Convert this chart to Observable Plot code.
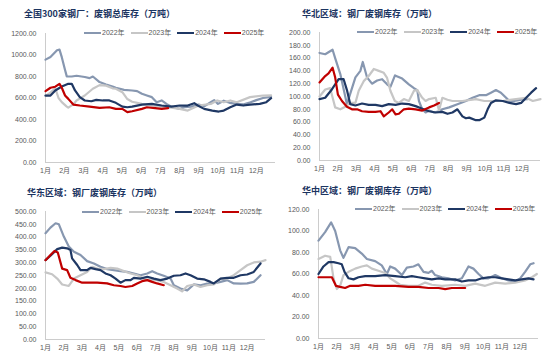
<!DOCTYPE html>
<html><head><meta charset="utf-8">
<script src="https://cdn.jsdelivr.net/npm/d3@7"></script>
<script src="https://cdn.jsdelivr.net/npm/@observablehq/plot@0.6"></script>
<style>
body{margin:0;background:#fff;width:550px;height:358px;overflow:hidden;position:relative;font-family:"Liberation Sans","Noto Sans CJK SC",sans-serif;}
.panel{position:absolute;width:275px;height:179px;}
.panel svg{position:absolute;left:0;top:0;}
.title{position:absolute;font-family:"Noto Sans CJK SC",sans-serif;font-weight:bold;font-size:9px;color:#1B3461;white-space:nowrap;line-height:10px;}
.legend{position:absolute;display:flex;align-items:center;font-size:7px;color:#595959;white-space:nowrap;line-height:8px;}
.legend .item{display:flex;align-items:center;margin-right:6px;}
.legend .sw{width:17px;height:2px;margin-right:1px;}
</style>
</head><body>
<script>
const years = ["2022年","2023年","2024年","2025年"];
const colors = ["#8797B0","#C6C6C6","#1F3864","#C00000"];
const monthTicks = [1,2,3,4,5,6,7,8,9,10,11,12];
const monthLabels = ["1月","2月","3月","4月","5月","6月","7月","8月","9月","10月","11月","12月"];

// Panel 1: 全国300家钢厂 废钢总库存 [month position, value]
const p1Title = "全国300家钢厂：废钢总库存（万吨）";
const p1_2022 = [[1,957],[1.26,982],[1.6,1044],[1.73,1050],[1.85,980],[2.02,860],[2.11,801],[2.37,800],[2.62,807],[3.05,795],[3.3,785],[3.47,800],[3.82,748],[4.16,726],[4.5,707],[4.67,695],[5.1,676],[5.52,670],[5.78,664],[6.03,639],[6.29,623],[6.55,608],[6.8,561],[7.06,577],[7.31,545],[7.57,520],[8.0,499],[8.25,514],[8.6,520],[8.99,539],[9.3,525],[9.62,560],[9.8,580],[10.0,545],[10.3,575],[10.6,555],[11.0,545],[11.3,540],[11.7,560],[12.0,580],[12.35,600],[12.77,610]];
const p1_2023 = [[1,620],[1.26,650],[1.51,690],[1.68,600],[1.85,561],[2.11,520],[2.19,510],[2.45,540],[2.62,577],[3.05,623],[3.47,686],[3.82,720],[4.16,715],[4.5,690],[4.67,686],[5.01,654],[5.27,590],[5.52,565],[6.03,545],[6.55,530],[7.06,520],[7.57,510],[8.0,499],[8.42,483],[8.99,530],[9.62,545],[9.96,577],[10.3,560],[10.64,577],[10.98,560],[11.67,608],[12.35,623],[12.77,625]];
const p1_2024 = [[1,623],[1.26,623],[1.51,670],[1.85,707],[2.19,732],[2.37,732],[2.54,670],[2.79,608],[3.05,577],[3.39,570],[3.65,583],[3.99,577],[4.33,577],[4.67,555],[5.01,520],[5.27,514],[5.52,520],[6.03,539],[6.55,545],[7.06,530],[7.57,520],[8.0,530],[8.42,530],[8.76,552],[8.94,530],[9.28,499],[9.7,483],[10.04,474],[10.3,483],[10.64,514],[10.98,539],[11.32,530],[11.67,539],[12.18,545],[12.52,561],[12.77,598]];
const p1_2025 = [[1,664],[1.26,695],[1.51,705],[1.73,732],[1.85,695],[2.02,623],[2.19,592],[2.45,539],[2.79,530],[3.3,520],[3.82,508],[4.33,514],[4.67,499],[5.01,499],[5.27,468],[5.52,477],[6.03,499],[6.29,514],[6.72,505],[7.06,499],[7.4,505]];

// Panel 2: 华北区域
const p2Title = "华北区域：钢厂废钢库存（万吨）";
const p2_2022 = [[1,168],[1.31,166],[1.71,173],[1.85,160],[2.13,135],[2.49,88],[2.95,130],[3.22,140],[3.35,154],[3.58,130],[3.85,120],[4.13,125],[4.4,127],[4.67,119],[4.85,115],[5.1,133],[5.49,128],[5.85,119],[6.13,113],[6.31,110],[6.4,93],[6.58,80],[6.76,75],[6.95,78],[7.22,75],[7.49,77],[7.67,80],[8.04,83],[8.49,88],[8.95,93],[9.31,98],[9.67,102],[10.04,102],[10.31,106],[10.58,110],[10.85,106],[11.31,93],[11.58,93],[11.95,95],[12.3,96]];
const p2_2023 = [[1,100],[1.31,111],[1.58,113],[1.76,93],[1.85,83],[2.13,80],[2.4,84],[2.67,90],[2.95,90],[3.13,109],[3.4,124],[3.67,132],[3.95,143],[4.22,140],[4.49,137],[4.67,129],[4.85,109],[5.09,93],[5.31,90],[5.58,96],[5.85,93],[6.13,109],[6.31,110],[6.58,98],[6.76,93],[6.95,96],[7.31,98],[7.49,78],[7.67,98],[7.95,95],[8.22,93],[8.76,93],[9.31,95],[9.49,96],[9.95,93],[10.22,93],[10.95,93],[11.67,96],[12.22,98],[12.58,93],[13.0,96]];
const p2_2024 = [[1,96],[1.31,98],[1.67,111],[2.04,127],[2.31,127],[2.49,110],[2.67,88],[2.95,86],[3.31,89],[3.67,87],[4.04,87],[4.4,85],[4.76,88],[5.13,87],[5.49,89],[5.85,88],[6.22,85],[6.58,81],[6.95,77],[7.31,75],[7.67,76],[7.95,73],[8.22,75],[8.49,80],[8.76,69],[8.95,66],[9.13,67],[9.49,63],[9.67,63],[9.95,67],[10.13,80],[10.31,90],[10.58,94],[10.95,93],[11.31,90],[11.67,88],[11.95,90],[12.22,98],[12.49,106],[12.76,113]];
const p2_2025 = [[1,122],[1.31,132],[1.49,136],[1.71,145],[1.85,130],[2.0,103],[2.22,93],[2.49,84],[2.76,80],[3.04,80],[3.31,77],[3.67,76],[4.04,76],[4.31,77],[4.49,69],[4.76,75],[4.95,80],[5.13,72],[5.31,73],[5.58,80],[5.85,81],[6.22,80],[6.58,78],[6.95,83],[7.22,86],[7.49,90]];

// Panel 3: 华东区域
const p3Title = "华东区域：钢厂废钢库存（万吨）";
const p3_2022 = [[1,415],[1.27,437],[1.55,454],[1.73,450],[2.0,402],[2.27,363],[2.55,343],[2.91,330],[3.27,306],[3.64,297],[4.0,284],[4.36,275],[4.73,271],[5.09,267],[5.45,264],[5.82,258],[6.18,251],[6.55,258],[6.82,267],[7.09,258],[7.45,249],[7.82,238],[8.0,212],[8.36,199],[8.73,192],[9.09,215],[9.45,212],[9.82,218],[10.18,219],[10.55,225],[10.91,232],[11.27,219],[11.64,218],[12.0,219],[12.36,225],[12.73,251]];
const p3_2023 = [[1,262],[1.36,255],[1.64,238],[1.91,215],[2.27,209],[2.55,238],[2.91,251],[3.27,264],[3.55,284],[3.82,277],[4.18,275],[4.55,280],[4.91,277],[5.27,267],[5.64,258],[6.0,251],[6.36,238],[6.73,232],[7.09,232],[7.45,225],[7.82,212],[8.18,199],[8.45,188],[8.73,209],[9.09,215],[9.45,205],[9.82,212],[10.18,215],[10.55,238],[10.91,238],[11.27,251],[11.64,271],[12.0,290],[12.36,301],[12.73,304],[13.0,310]];
const p3_2024 = [[1,310],[1.27,327],[1.64,353],[1.91,359],[2.18,356],[2.36,350],[2.45,317],[2.73,291],[2.91,271],[3.27,271],[3.45,280],[3.73,275],[4.0,271],[4.27,258],[4.55,251],[4.82,238],[5.09,222],[5.36,232],[5.64,232],[5.82,241],[6.18,238],[6.55,245],[6.91,238],[7.27,232],[7.64,238],[8.0,249],[8.36,251],[8.64,258],[8.91,251],[9.27,238],[9.64,235],[10.0,225],[10.18,219],[10.55,238],[10.91,241],[11.27,241],[11.64,251],[12.0,254],[12.36,264],[12.73,297]];
const p3_2025 = [[1,310],[1.27,330],[1.49,346],[1.67,340],[1.91,277],[2.18,271],[2.36,241],[2.64,232],[3.0,222],[3.36,222],[3.82,222],[4.36,219],[4.73,212],[5.09,209],[5.36,205],[5.73,209],[6.0,219],[6.27,228],[6.55,232],[6.82,225],[7.09,219],[7.45,212]];

// Panel 4: 华中区域
const p4Title = "华中区域：钢厂废钢库存（万吨）";
const p4_2022 = [[1,91],[1.36,99],[1.69,108],[1.91,100],[2.18,82],[2.36,75],[2.64,85],[3.0,84],[3.36,79],[3.64,74],[4.09,72],[4.45,68],[4.73,60],[4.91,67],[5.18,65],[5.55,59],[5.82,66],[6.18,67],[6.45,69],[6.73,62],[7.0,61],[7.18,63],[7.36,59],[7.73,57],[8.09,56],[8.45,54],[8.82,56],[9.18,67],[9.45,65],[9.73,60],[10.0,56],[10.27,56],[10.64,59],[11.0,56],[11.36,54],[11.73,53],[12.0,56],[12.27,62],[12.55,69],[12.73,70]];
const p4_2023 = [[1,74],[1.36,77],[1.64,76],[1.82,56],[2.0,46],[2.18,49],[2.36,59],[2.64,62],[3.0,65],[3.36,67],[3.64,68],[3.91,65],[4.27,63],[4.64,61],[4.91,56],[5.18,53],[5.45,50],[5.91,49],[6.45,49],[6.82,52],[7.18,50],[7.73,49],[8.45,50],[9.0,49],[9.55,51],[10.09,49],[10.64,52],[11.18,51],[11.73,52],[12.27,54],[12.64,57],[12.91,60]];
const p4_2024 = [[1,60],[1.27,67],[1.55,71],[1.82,71],[2.09,70],[2.27,69],[2.42,62],[2.64,56],[2.91,55],[3.18,57],[3.55,58],[4.09,58],[4.64,59],[5.18,58],[5.73,57],[6.09,58],[6.45,57],[6.82,56],[7.18,55],[7.55,56],[7.91,55],[8.45,55],[8.82,53],[9.18,54],[9.55,54],[9.91,56],[10.27,57],[10.64,57],[11.0,56],[11.36,55],[11.73,54],[12.09,55],[12.45,56],[12.73,55]];
const p4_2025 = [[1,57],[1.45,57],[1.73,57],[1.95,49],[2.18,48],[2.45,47],[2.73,49],[3.18,49],[3.55,50],[4.09,49],[4.64,49],[5.18,49],[5.91,48],[6.45,48],[7.0,47],[7.55,47],[7.91,46],[8.27,47],[8.64,47],[9.0,47]];

const panels = [
  {title:p1Title, series:[p1_2022,p1_2023,p1_2024,p1_2025], max:1200, step:200, left:0, top:0, ml:45, mr:0, mt:33, mb:17, tx:24, ty:9, lx:84, ly:29},
  {title:p2Title, series:[p2_2022,p2_2023,p2_2024,p2_2025], max:200, step:20, left:275, top:0, ml:44, mr:10, mt:32, mb:19, tx:27, ty:9, lx:82, ly:28},
  {title:p3Title, series:[p3_2022,p3_2023,p3_2024,p3_2025], max:500, step:50, left:0, top:178, ml:45, mr:10, mt:33, mb:18, tx:27, ty:10, lx:82, ly:30},
  {title:p4Title, series:[p4_2022,p4_2023,p4_2024,p4_2025], max:120, step:20, left:275, top:178, ml:43, mr:12, mt:31, mb:19, tx:27, ty:8, lx:80, ly:27}
];

for (const cfg of panels) {
  const div = document.createElement("div");
  div.className = "panel";
  div.style.left = cfg.left + "px";
  div.style.top = cfg.top + "px";
  document.body.appendChild(div);

  const data = years.flatMap((yr, i) => cfg.series[i].map(([m, v]) => ({year: yr, m, v})));
  const svg = Plot.plot({
    width: 275, height: 179,
    marginLeft: cfg.ml, marginRight: cfg.mr, marginTop: cfg.mt, marginBottom: cfg.mb,
    style: {fontFamily: '"Liberation Sans","Noto Sans CJK SC",sans-serif', fontSize: "7px", color: "#595959", background: "transparent", overflow: "visible"},
    x: {domain: [1, 13], ticks: monthTicks, tickFormat: d => monthLabels[d - 1], tickSize: 0, tickPadding: 6, label: null},
    y: {domain: [0, cfg.max], ticks: d3.range(0, cfg.max + 1, cfg.step), tickFormat: d3.format(".2f"), tickSize: 0, tickPadding: 9, label: null},
    color: {domain: years, range: colors},
    marks: [
      Plot.ruleX([1], {stroke: "#BFBFBF", strokeWidth: 0.8}),
      Plot.ruleY([0], {stroke: "#BFBFBF", strokeWidth: 0.8}),
      Plot.line(data, {x: "m", y: "v", z: "year", stroke: "year", strokeWidth: 2.2})
    ]
  });
  div.appendChild(svg);

  const t = document.createElement("div");
  t.className = "title";
  t.textContent = cfg.title;
  t.style.left = cfg.tx + "px";
  t.style.top = cfg.ty + "px";
  div.appendChild(t);

  const lg = document.createElement("div");
  lg.className = "legend";
  lg.style.left = cfg.lx + "px";
  lg.style.top = cfg.ly + "px";
  years.forEach((yr, i) => {
    const it = document.createElement("div");
    it.className = "item";
    const sw = document.createElement("span");
    sw.className = "sw";
    sw.style.background = colors[i];
    const tx = document.createElement("span");
    tx.textContent = yr;
    it.appendChild(sw); it.appendChild(tx);
    lg.appendChild(it);
  });
  div.appendChild(lg);
}
</script>
</body></html>
